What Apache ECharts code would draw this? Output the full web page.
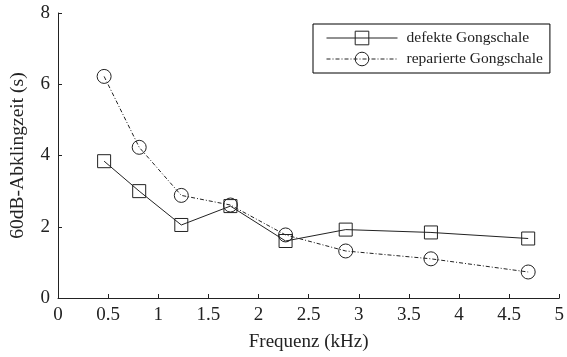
<!DOCTYPE html>
<html>
<head>
<meta charset="utf-8">
<script src="https://cdn.jsdelivr.net/npm/echarts@6/dist/echarts.min.js"></script>
<style>html,body{margin:0;padding:0;background:#fff;}#c{width:567px;height:357px;}</style>
</head>
<body>
<div id="c"></div>
<script>
var freq = [0.46, 0.81, 1.23, 1.72, 2.27, 2.87, 3.72, 4.69];
var defekt = [3.84, 3.00, 2.05, 2.58, 1.60, 1.92, 1.84, 1.67];
var repariert = [6.22, 4.23, 2.88, 2.61, 1.77, 1.32, 1.10, 0.73];
var seriesNames = ['defekte Gongschale', 'reparierte Gongschale'];
var xTitle = 'Frequenz (kHz)';
var yTitle = '60dB-Abklingzeit (s)';

function pairs(xs, ys){ return xs.map(function(x,i){ return [x, ys[i]]; }); }
var font = 'Liberation Serif, Times New Roman, serif';
var ink = '#222';
var chart = echarts.init(document.getElementById('c'));
chart.setOption({
  animation: false,
  backgroundColor: '#fff',
  grid: {left: 57, top: 13, right: 7, bottom: 58, containLabel: false},
  legend: {
    orient: 'vertical', left: 313, top: 24,
    padding: [6, 7, 6, 13], itemGap: 5,
    itemWidth: 71, itemHeight: 17,
    borderColor: '#000', borderWidth: 1,
    lineStyle: {width: 1},
    itemStyle: {borderWidth: 1, color: 'rgba(255,255,255,0)', borderColor: ink},
    textStyle: {fontFamily: font, fontSize: 15.5, color: ink, padding: [0,0,0,4]},
    data: seriesNames
  },
  xAxis: {
    type: 'value', min: 0, max: 5, interval: 0.5,
    name: xTitle, nameLocation: 'middle', nameGap: 35,
    nameTextStyle: {fontFamily: font, fontSize: 19, color: ink},
    axisLine: {lineStyle: {color: ink, width: 1}},
    axisTick: {inside: true, length: 4, lineStyle: {color: ink}},
    axisLabel: {fontFamily: font, fontSize: 19, color: ink, margin: 8},
    splitLine: {show: false}
  },
  yAxis: {
    type: 'value', min: 0, max: 8, interval: 2,
    name: yTitle, nameLocation: 'middle', nameGap: 30,
    nameTextStyle: {fontFamily: font, fontSize: 19.5, color: ink},
    axisLine: {show: true, lineStyle: {color: ink, width: 1}},
    axisTick: {show: true, inside: true, length: 4, lineStyle: {color: ink}},
    axisLabel: {fontFamily: font, fontSize: 19, color: ink, margin: 8},
    splitLine: {show: false}
  },
  series: [
    {
      name: seriesNames[0], type: 'line', data: pairs(freq, defekt),
      symbol: 'rect', symbolSize: 13,
      lineStyle: {color: ink, width: 1, type: 'solid'},
      itemStyle: {color: 'rgba(255,255,255,0)', borderColor: ink, borderWidth: 1}
    },
    {
      name: seriesNames[1], type: 'line', data: pairs(freq, repariert),
      symbol: 'circle', symbolSize: 14,
      lineStyle: {color: ink, width: 1, type: [4, 2, 1, 2]},
      itemStyle: {color: 'rgba(255,255,255,0)', borderColor: ink, borderWidth: 1}
    }
  ]
});
</script>
</body>
</html>
